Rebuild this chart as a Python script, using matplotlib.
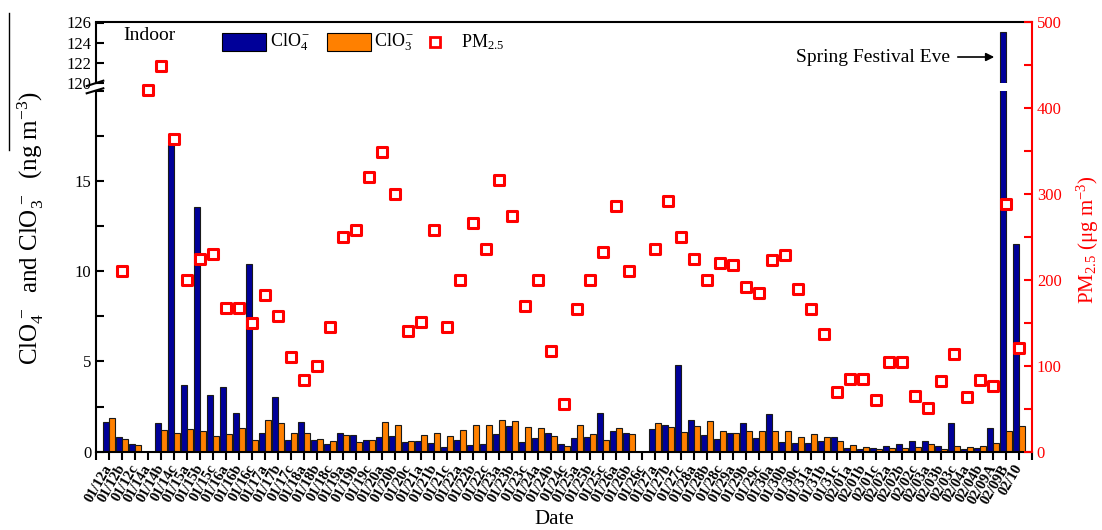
import numpy as np
import matplotlib
matplotlib.use("Agg")
import matplotlib.pyplot as plt
from matplotlib.lines import Line2D
from matplotlib.patches import Rectangle
from matplotlib.ticker import MultipleLocator

plt.rcParams["font.family"] = "Liberation Serif"
plt.rcParams["mathtext.fontset"] = "custom"
plt.rcParams["mathtext.rm"] = "Liberation Serif"
plt.rcParams["mathtext.it"] = "Liberation Serif:italic"
plt.rcParams["mathtext.bf"] = "Liberation Serif:bold"

nan = np.nan

dates = [
    "01/12a", "01/12b", "01/12c", "01/14a", "01/14b", "01/14c",
    "01/15a", "01/15b", "01/15c", "01/16a", "01/16b", "01/16c",
    "01/17a", "01/17b", "01/17c", "01/18a", "01/18b", "01/18c",
    "01/19a", "01/19b", "01/19c", "01/20a", "01/20b", "01/20c",
    "01/21a", "01/21b", "01/21c", "01/22a", "01/22b", "01/22c",
    "01/23a", "01/23b", "01/23c", "01/24a", "01/24b", "01/24c",
    "01/25a", "01/25b", "01/25c", "01/26a", "01/26b", "01/26c",
    "01/27a", "01/27b", "01/27c", "01/28a", "01/28b", "01/28c",
    "01/29a", "01/29b", "01/29c", "01/30a", "01/30b", "01/30c",
    "01/31a", "01/31b", "01/31c", "02/01a", "02/01b", "02/01c",
    "02/02a", "02/02b", "02/02c", "02/03a", "02/03b", "02/03c",
    "02/04a", "02/04b", "02/09A", "02/09B", "02/10",
]

# ClO4- (ng m-3)
clo4 = [
    1.63, 0.83, 0.43, nan, 1.61, 17.0,
    3.71, 13.56, 3.12, 3.58, 2.16, 10.38,
    1.03, 3.05, 0.67, 1.63, 0.63, 0.43,
    1.03, 0.91, 0.67, 0.81, 0.89, 0.55,
    0.57, 0.46, 0.28, 0.65, 0.35, 0.41,
    0.96, 1.44, 0.55, 0.74, 1.03, 0.43,
    0.74, 0.81, 2.16, 1.16, 1.02, nan,
    1.24, 1.48, 4.79, 1.77, 0.91, 0.70,
    1.05, 1.59, 0.74, 2.09, 0.54, 0.50,
    0.46, 0.59, 0.83, 0.22, 0.15, 0.19,
    0.33, 0.41, 0.61, 0.61, 0.30, 1.57,
    0.15, 0.22, 1.30, 125.1, 11.49,
]

# ClO3- (ng m-3)
clo3 = [
    1.85, 0.70, 0.37, nan, 1.20, 1.03,
    1.24, 1.13, 0.89, 0.96, 1.31, 0.63,
    1.77, 1.61, 1.02, 1.03, 0.70, 0.59,
    0.91, 0.52, 0.63, 1.63, 1.48, 0.59,
    0.91, 1.03, 0.87, 1.20, 1.48, 1.48,
    1.74, 1.68, 1.37, 1.30, 0.87, 0.30,
    1.48, 0.98, 0.67, 1.33, 0.96, nan,
    1.61, 1.37, 1.09, 1.41, 1.72, 1.16,
    1.02, 1.16, 1.13, 1.16, 1.16, 0.83,
    1.00, 0.80, 0.59, 0.37, 0.28, 0.15,
    0.22, 0.19, 0.24, 0.41, 0.13, 0.30,
    0.26, 0.33, 0.46, 1.16, 1.44,
]

# PM2.5 (ug m-3)
pm25 = [
    nan, 210, nan, 421, 449, 364,
    200, 225, 230, 167, 167, 150,
    183, 158, 110, 83.5, 100, 145,
    250, 258, 320, 349.5, 300, 140.6,
    151.5, 258, 145, 200, 266, 236.5,
    316.5, 275, 170, 200, 117, 55.5,
    166.6, 200, 233, 286, 210, nan,
    236, 292, 250, 224.5, 200, 219.5,
    218, 191.5, 185, 223, 229, 190,
    166, 137, 70, 84.7, 84.7, 60,
    104, 104, 65, 50.5, 82.7, 114,
    64, 83.5, 76.5, 288.6, 121,
]

W, H = 1102, 530
fig = plt.figure(figsize=(W / 100, H / 100), dpi=100)


def fx(px):
    return px / W


def fy(py):
    return 1 - py / H


left, right = 96, 1032
top, bottom = 22.5, 451.7
brk_top, brk_bot = 82.7, 90.7

ax_hi = fig.add_axes([fx(left), fy(brk_top), (right - left) / W, (brk_top - top) / H])
ax_lo = fig.add_axes([fx(left), fy(bottom), (right - left) / W, (bottom - brk_bot) / H])
ax_pm = fig.add_axes([fx(left), fy(bottom), (right - left) / W, (bottom - top) / H])
ax_pm.patch.set_visible(False)

x = np.arange(len(dates))
w = 0.43
blue = "#000099"
orange = "#FF8000"

for ax in (ax_hi, ax_lo):
    ax.bar(x - w / 2, clo4, w, color=blue, edgecolor="#1a1a1a", linewidth=0.8)
    ax.bar(x + w / 2, clo3, w, color=orange, edgecolor="#1a1a1a", linewidth=0.8)
    ax.set_xlim(-1, 71)
    for s in ax.spines.values():
        s.set_linewidth(1.5)
    ax.spines["right"].set_visible(False)

ax_hi.set_ylim(120, 126)
ax_hi.spines["bottom"].set_visible(False)
ax_hi.set_yticks([120, 122, 124, 126])
ax_hi.tick_params(axis="y", direction="in", length=6, width=1.5, labelsize=12)
ax_hi.tick_params(axis="x", bottom=False, labelbottom=False)

ax_lo.set_ylim(0, 20)
ax_lo.spines["top"].set_visible(False)
ax_lo.set_yticks([0, 5, 10, 15])
ax_lo.yaxis.set_minor_locator(MultipleLocator(2.5))
ax_lo.tick_params(axis="y", which="both", direction="in", length=6, width=1.5, labelsize=12)
ax_lo.set_xticks(np.arange(-1, 72))
ax_lo.set_xticklabels([""] + dates + [""], rotation=60, ha="right", va="center",
                      rotation_mode="anchor", fontsize=10.5, fontweight="bold")
ax_lo.tick_params(axis="x", direction="out", length=6, width=1.5, pad=4)

# PM2.5 on the right axis, spanning the whole height
ax_pm.scatter(x, pm25, marker="s", s=58, facecolor="white", edgecolor="red",
              linewidth=2.2, zorder=5)
ax_pm.set_xlim(-1, 71)
ax_pm.set_ylim(0, 500)
ax_pm.set_xticks([])
ax_pm.yaxis.tick_right()
ax_pm.set_yticks([0, 100, 200, 300, 400, 500])
ax_pm.yaxis.set_minor_locator(MultipleLocator(50))
ax_pm.tick_params(axis="y", which="both", direction="in", length=6, width=1.5,
                  colors="red", labelsize=12, labelcolor="red")
for side in ("left", "top", "bottom"):
    ax_pm.spines[side].set_visible(False)
ax_pm.spines["right"].set_color("red")
ax_pm.spines["right"].set_linewidth(1.5)

# axis break marks
for y0, y1 in [(86, 80.7), (93.3, 88.3)]:
    fig.add_artist(Line2D([fx(86.7), fx(103.3)], [fy(y0), fy(y1)], color="black", lw=1.5))

# legend drawn by hand
fig.add_artist(Rectangle((fx(222), fy(51)), 44 / W, 18 / H, facecolor=blue,
                         edgecolor="black", lw=0.8, transform=fig.transFigure))
fig.text(fx(270), fy(42), r"ClO$_4^-$", fontsize=13, va="center")
fig.add_artist(Rectangle((fx(327), fy(51)), 44 / W, 18 / H, facecolor=orange,
                         edgecolor="black", lw=0.8, transform=fig.transFigure))
fig.text(fx(374), fy(42), r"ClO$_3^-$", fontsize=13, va="center")
fig.add_artist(Line2D([fx(435)], [fy(42)], marker="s", markersize=7, markerfacecolor="white",
                      markeredgecolor="red", markeredgewidth=2.0, linestyle="none"))
fig.text(fx(461), fy(42), r"PM$_{2.5}$", fontsize=13, va="center")

fig.text(fx(123), fy(35), "Indoor", fontsize=14, va="center")

fig.text(fx(950), fy(57), "Spring Festival Eve", fontsize=14, ha="right", va="center")
ax_pm.annotate("", xy=(997, H - 57), xytext=(955, H - 57), xycoords="figure pixels",
               textcoords="figure pixels",
               arrowprops=dict(arrowstyle="-|>", color="black", lw=1.2, mutation_scale=12))

fig.text(fx(31), fy(228), r"ClO$_4^{\,-}$  and ClO$_3^{\,-}$  (ng m$^{-3}$)", rotation=90,
         fontsize=18, ha="center", va="center")
fig.text(fx(1088), fy(240), r"PM$_{2.5}$ (μg m$^{-3}$)", rotation=90, color="red",
         fontsize=15, ha="center", va="center")
fig.text(fx(554), fy(520), "Date", fontsize=15, ha="center", va="center")

fig.add_artist(Line2D([fx(9), fx(9)], [fy(13), fy(150)], color="black", lw=1))

fig.savefig("out.png", dpi=100)
